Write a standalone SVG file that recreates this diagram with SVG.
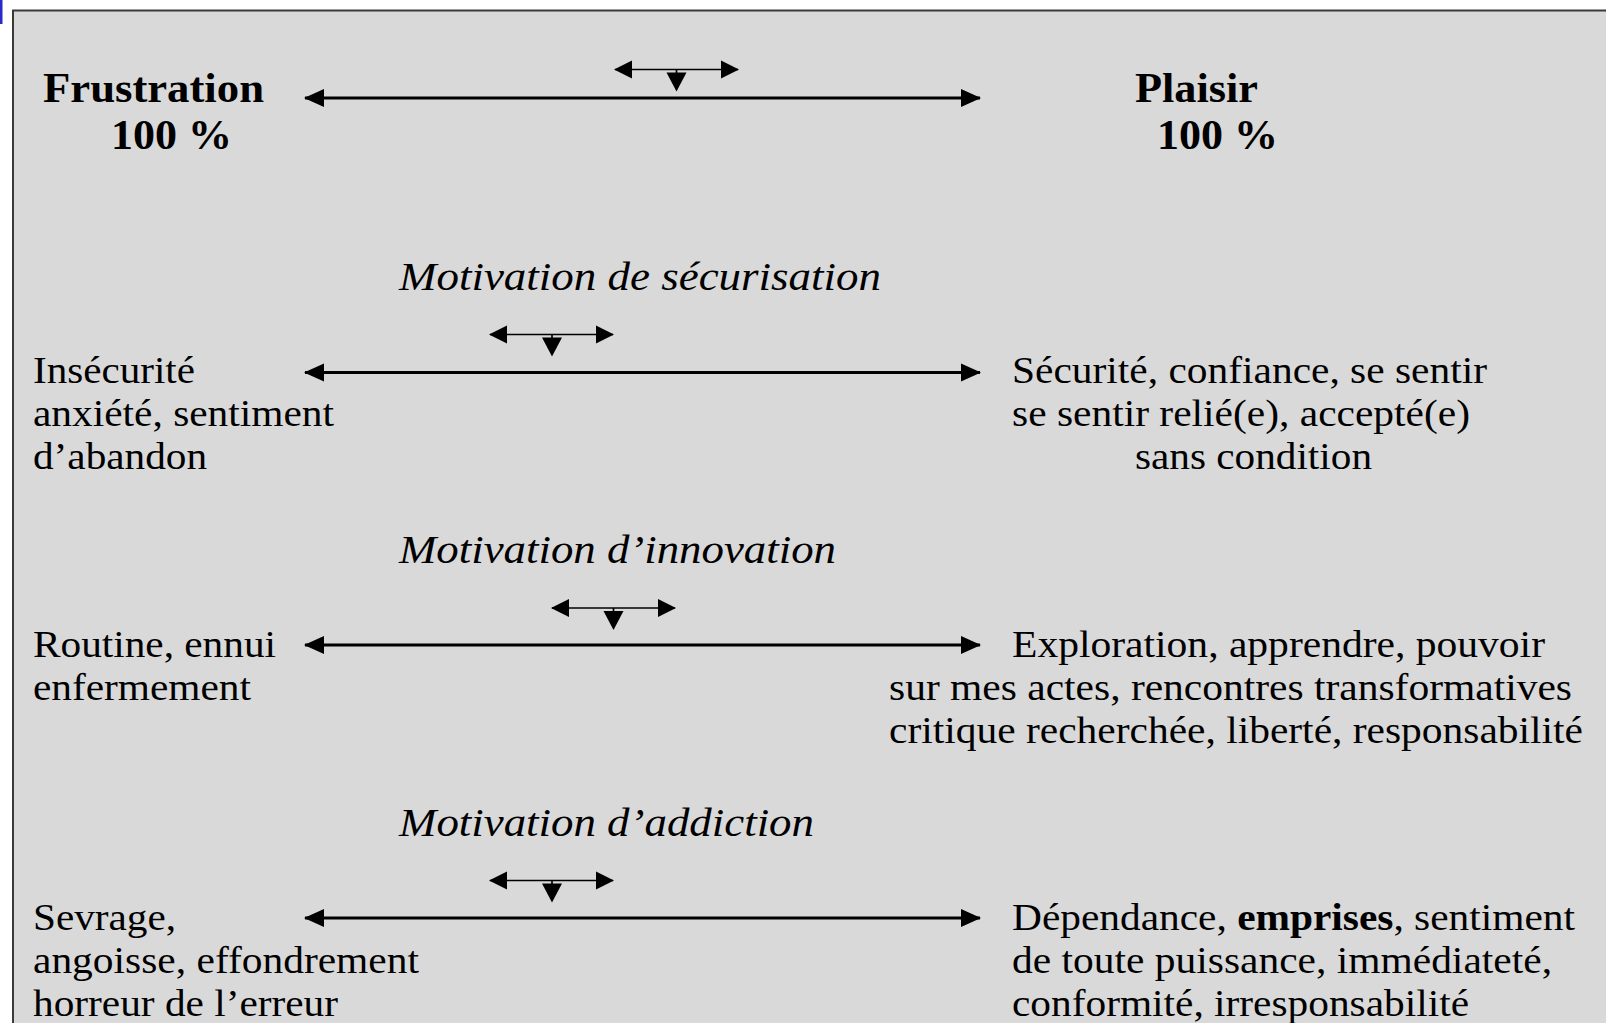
<svg xmlns="http://www.w3.org/2000/svg" width="1606" height="1023" viewBox="0 0 1606 1023">
<defs>
<style>
.b{font-family:"Liberation Serif","Times New Roman",serif;font-weight:bold;font-size:42px;fill:#000}
.t{font-family:"Liberation Serif","Times New Roman",serif;font-style:italic;font-size:40px;fill:#000}
.r{font-family:"Liberation Serif","Times New Roman",serif;font-size:38px;fill:#000}
.main{stroke:#000;stroke-width:2.8;fill:none}
.small{stroke:#000;stroke-width:1.7;fill:none}
</style>
<marker id="hm" markerUnits="userSpaceOnUse" markerWidth="20" markerHeight="20" viewBox="0 0 20 20" refX="19" refY="10" orient="auto-start-reverse"><path d="M0,1 L20,10 L0,19 Z" fill="#000"/></marker>
<marker id="hs" markerUnits="userSpaceOnUse" markerWidth="18" markerHeight="20" viewBox="0 0 18 20" refX="17" refY="10" orient="auto-start-reverse"><path d="M0,1 L18,10 L0,19 Z" fill="#000"/></marker>
<g id="tick"><path d="M0,0 V4" class="small"/><path d="M-10,3 L10,3 L0,22 Z" fill="#000"/></g>
</defs>
<rect x="0" y="0" width="1606" height="1023" fill="#fff"/>
<rect x="0" y="0" width="2.5" height="24" fill="#2a2ac8"/>
<rect x="13" y="10.5" width="1620" height="1040" fill="#d9d9d9" stroke="#3a3a3a" stroke-width="2"/>

<g id="connectors">
<line class="main" x1="305" y1="98" x2="980" y2="98" marker-start="url(#hm)" marker-end="url(#hm)"/>
<line class="small" x1="615" y1="69.5" x2="738" y2="69.5" marker-start="url(#hs)" marker-end="url(#hs)"/>
<use href="#tick" x="676.5" y="69.5"/>

<line class="main" x1="305" y1="372.5" x2="980" y2="372.5" marker-start="url(#hm)" marker-end="url(#hm)"/>
<line class="small" x1="490" y1="334.5" x2="613" y2="334.5" marker-start="url(#hs)" marker-end="url(#hs)"/>
<use href="#tick" x="552" y="334.5"/>

<line class="main" x1="305" y1="645" x2="980" y2="645" marker-start="url(#hm)" marker-end="url(#hm)"/>
<line class="small" x1="552" y1="608" x2="675" y2="608" marker-start="url(#hs)" marker-end="url(#hs)"/>
<use href="#tick" x="613.5" y="608"/>

<line class="main" x1="305" y1="918" x2="980" y2="918" marker-start="url(#hm)" marker-end="url(#hm)"/>
<line class="small" x1="490" y1="880.5" x2="613" y2="880.5" marker-start="url(#hs)" marker-end="url(#hs)"/>
<use href="#tick" x="552" y="880.5"/>
</g>

<g id="frustration">
<text class="b" x="43" y="102" textLength="221" lengthAdjust="spacingAndGlyphs">Frustration</text>
<text class="b" x="111" y="149" textLength="121" lengthAdjust="spacingAndGlyphs">100 %</text>
</g>
<g id="plaisir">
<text class="b" x="1135" y="102" textLength="123" lengthAdjust="spacingAndGlyphs">Plaisir</text>
<text class="b" x="1157" y="149" textLength="121" lengthAdjust="spacingAndGlyphs">100 %</text>
</g>

<g id="title-securisation"><text class="t" x="399" y="290" textLength="482" lengthAdjust="spacingAndGlyphs">Motivation de sécurisation</text></g>
<g id="insecurite">
<text class="r" x="33" y="383" textLength="162" lengthAdjust="spacingAndGlyphs">Insécurité</text>
<text class="r" x="33" y="426" textLength="301" lengthAdjust="spacingAndGlyphs">anxiété, sentiment</text>
<text class="r" x="33" y="469" textLength="174" lengthAdjust="spacingAndGlyphs">d’abandon</text>
</g>
<g id="securite">
<text class="r" x="1012" y="383" textLength="475" lengthAdjust="spacingAndGlyphs">Sécurité, confiance, se sentir</text>
<text class="r" x="1012" y="426" textLength="458" lengthAdjust="spacingAndGlyphs">se sentir relié(e), accepté(e)</text>
<text class="r" x="1135" y="469" textLength="237" lengthAdjust="spacingAndGlyphs">sans condition</text>
</g>

<g id="title-innovation"><text class="t" x="399" y="563" textLength="437" lengthAdjust="spacingAndGlyphs">Motivation d’innovation</text></g>
<g id="routine">
<text class="r" x="33" y="657" textLength="243" lengthAdjust="spacingAndGlyphs">Routine, ennui</text>
<text class="r" x="33" y="700" textLength="218" lengthAdjust="spacingAndGlyphs">enfermement</text>
</g>
<g id="exploration">
<text class="r" x="1012" y="657" textLength="533" lengthAdjust="spacingAndGlyphs">Exploration, apprendre, pouvoir</text>
<text class="r" x="889" y="700" textLength="683" lengthAdjust="spacingAndGlyphs">sur mes actes, rencontres transformatives</text>
<text class="r" x="889" y="743" textLength="694" lengthAdjust="spacingAndGlyphs">critique recherchée, liberté, responsabilité</text>
</g>

<g id="title-addiction"><text class="t" x="399" y="836" textLength="415" lengthAdjust="spacingAndGlyphs">Motivation d’addiction</text></g>
<g id="sevrage">
<text class="r" x="33" y="930" textLength="143" lengthAdjust="spacingAndGlyphs">Sevrage,</text>
<text class="r" x="33" y="973" textLength="386" lengthAdjust="spacingAndGlyphs">angoisse, effondrement</text>
<text class="r" x="33" y="1016" textLength="305" lengthAdjust="spacingAndGlyphs">horreur de l’erreur</text>
</g>
<g id="dependance">
<text class="r" x="1012" y="930" textLength="563" lengthAdjust="spacingAndGlyphs">Dépendance, <tspan font-weight="bold">emprises</tspan>, sentiment</text>
<text class="r" x="1012" y="973" textLength="540" lengthAdjust="spacingAndGlyphs">de toute puissance, immédiateté,</text>
<text class="r" x="1012" y="1016" textLength="457" lengthAdjust="spacingAndGlyphs">conformité, irresponsabilité</text>
</g>
</svg>
